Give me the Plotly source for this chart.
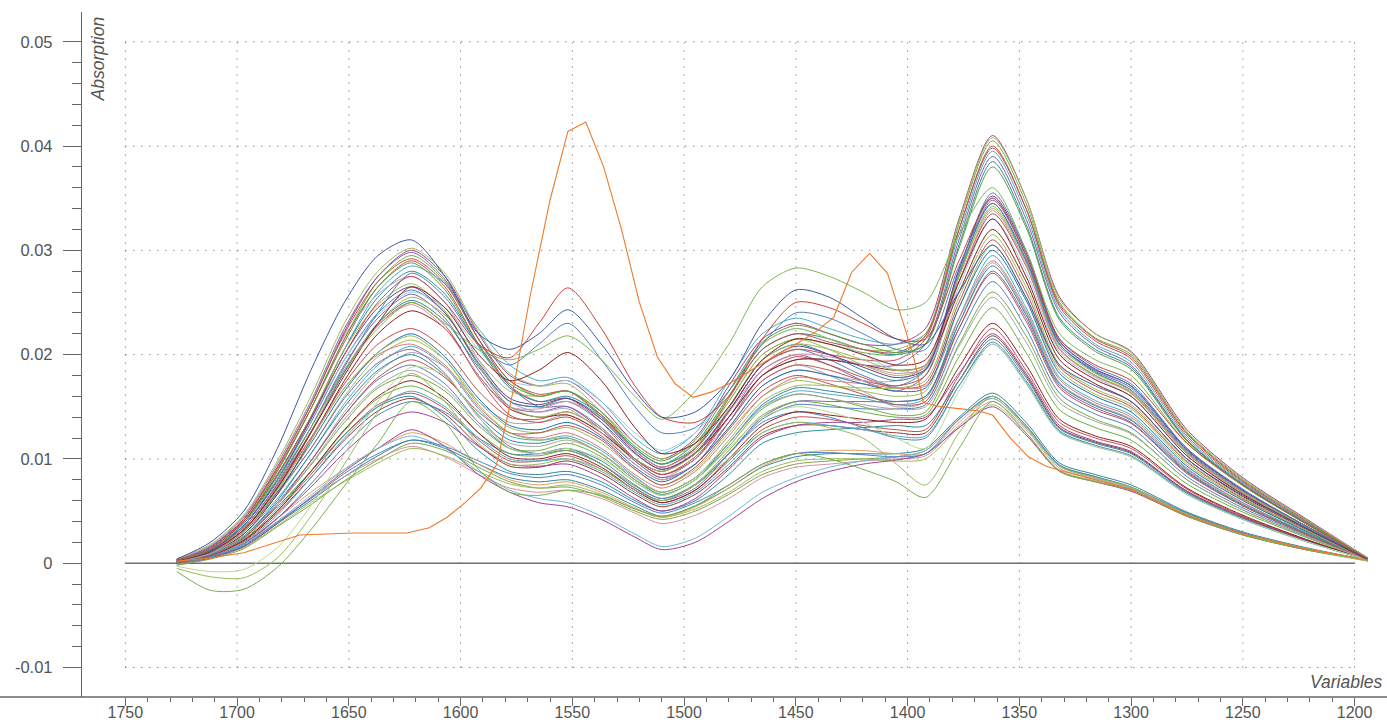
import plotly.graph_objects as go

# Wavenumbers (cm-1) at which each spectrum was read
wavenumber = [1727, 1712, 1697, 1682, 1667, 1652, 1637, 1622, 1607, 1592, 1578, 1565, 1552, 1537, 1522, 1510, 1495,
              1480, 1465, 1450, 1435, 1420, 1405, 1392, 1377, 1362, 1347, 1332, 1316, 1300, 1275, 1250, 1222, 1194]

t1 = [0.0003, 0.0015, 0.0042, 0.0092, 0.0152, 0.0222, 0.0275, 0.0300, 0.0275, 0.0220, 0.0180, 0.0170, 0.0175, 0.0150, 0.0115, 0.0100, 0.0120, 0.0170, 0.0215, 0.0230, 0.0220, 0.0210, 0.0210, 0.0225, 0.0330, 0.0410, 0.0350, 0.0255, 0.0220, 0.0203, 0.0128, 0.0082, 0.0043, 0.0005]
t2 = [0.0002, 0.0014, 0.0040, 0.0088, 0.0148, 0.0215, 0.0270, 0.0295, 0.0270, 0.0215, 0.0175, 0.0160, 0.0165, 0.0140, 0.0108, 0.0092, 0.0110, 0.0155, 0.0200, 0.0215, 0.0210, 0.0202, 0.0200, 0.0218, 0.0325, 0.0405, 0.0345, 0.0250, 0.0216, 0.0200, 0.0125, 0.0080, 0.0042, 0.0004]
t3 = [0.0004, 0.0016, 0.0042, 0.0090, 0.0148, 0.0212, 0.0265, 0.0290, 0.0265, 0.0210, 0.0170, 0.0155, 0.0158, 0.0135, 0.0100, 0.0085, 0.0100, 0.0145, 0.0190, 0.0205, 0.0200, 0.0195, 0.0195, 0.0215, 0.0320, 0.0400, 0.0340, 0.0246, 0.0213, 0.0196, 0.0122, 0.0078, 0.0040, 0.0004]
t4 = [0.0001, 0.0011, 0.0036, 0.0082, 0.0140, 0.0205, 0.0260, 0.0285, 0.0268, 0.0225, 0.0190, 0.0175, 0.0178, 0.0155, 0.0120, 0.0105, 0.0125, 0.0175, 0.0220, 0.0235, 0.0225, 0.0215, 0.0210, 0.0220, 0.0315, 0.0395, 0.0335, 0.0243, 0.0210, 0.0193, 0.0120, 0.0077, 0.0040, 0.0004]
t5 = [0.0003, 0.0016, 0.0044, 0.0095, 0.0155, 0.0225, 0.0275, 0.0298, 0.0272, 0.0215, 0.0170, 0.0150, 0.0150, 0.0128, 0.0098, 0.0082, 0.0095, 0.0135, 0.0180, 0.0195, 0.0195, 0.0190, 0.0190, 0.0210, 0.0310, 0.0390, 0.0330, 0.0240, 0.0208, 0.0190, 0.0118, 0.0075, 0.0039, 0.0004]
t6 = [0.0002, 0.0012, 0.0038, 0.0084, 0.0140, 0.0205, 0.0255, 0.0280, 0.0258, 0.0208, 0.0168, 0.0155, 0.0160, 0.0142, 0.0110, 0.0095, 0.0115, 0.0160, 0.0205, 0.0220, 0.0215, 0.0205, 0.0200, 0.0210, 0.0305, 0.0385, 0.0325, 0.0235, 0.0205, 0.0188, 0.0118, 0.0076, 0.0039, 0.0004]
t7 = [0.0004, 0.0018, 0.0046, 0.0098, 0.0160, 0.0230, 0.0280, 0.0302, 0.0278, 0.0222, 0.0182, 0.0170, 0.0172, 0.0145, 0.0110, 0.0095, 0.0112, 0.0160, 0.0210, 0.0225, 0.0215, 0.0205, 0.0205, 0.0220, 0.0328, 0.0408, 0.0350, 0.0253, 0.0220, 0.0202, 0.0126, 0.0081, 0.0042, 0.0005]
t8 = [0.0003, 0.0013, 0.0042, 0.0092, 0.0152, 0.0220, 0.0270, 0.0292, 0.0268, 0.0215, 0.0175, 0.0162, 0.0165, 0.0142, 0.0108, 0.0092, 0.0110, 0.0158, 0.0205, 0.0220, 0.0212, 0.0205, 0.0202, 0.0218, 0.0320, 0.0398, 0.0340, 0.0248, 0.0215, 0.0198, 0.0124, 0.0079, 0.0041, 0.0004]
t9 = [0.0002, 0.0012, 0.0040, 0.0088, 0.0148, 0.0215, 0.0265, 0.0288, 0.0262, 0.0210, 0.0172, 0.0160, 0.0165, 0.0145, 0.0112, 0.0098, 0.0118, 0.0165, 0.0212, 0.0228, 0.0220, 0.0210, 0.0202, 0.0210, 0.0302, 0.0380, 0.0322, 0.0233, 0.0203, 0.0186, 0.0117, 0.0075, 0.0039, 0.0004]

u1 = [0.0003, 0.0013, 0.0036, 0.0080, 0.0135, 0.0195, 0.0240, 0.0262, 0.0240, 0.0190, 0.0155, 0.0150, 0.0155, 0.0135, 0.0105, 0.0090, 0.0105, 0.0145, 0.0190, 0.0205, 0.0195, 0.0180, 0.0170, 0.0185, 0.0280, 0.0355, 0.0300, 0.0215, 0.0188, 0.0172, 0.0110, 0.0070, 0.0036, 0.0004]
u2 = [0.0002, 0.0012, 0.0034, 0.0076, 0.0130, 0.0190, 0.0235, 0.0258, 0.0235, 0.0185, 0.0150, 0.0145, 0.0150, 0.0130, 0.0100, 0.0085, 0.0100, 0.0140, 0.0185, 0.0200, 0.0190, 0.0175, 0.0165, 0.0180, 0.0275, 0.0348, 0.0295, 0.0210, 0.0184, 0.0168, 0.0108, 0.0069, 0.0035, 0.0003]
u3 = [0.0001, 0.0011, 0.0032, 0.0073, 0.0126, 0.0185, 0.0230, 0.0255, 0.0238, 0.0195, 0.0165, 0.0160, 0.0165, 0.0145, 0.0115, 0.0100, 0.0115, 0.0155, 0.0200, 0.0215, 0.0205, 0.0190, 0.0180, 0.0188, 0.0275, 0.0342, 0.0290, 0.0208, 0.0182, 0.0165, 0.0106, 0.0068, 0.0035, 0.0003]
u4 = [0.0003, 0.0012, 0.0034, 0.0075, 0.0126, 0.0183, 0.0228, 0.0250, 0.0228, 0.0178, 0.0142, 0.0135, 0.0140, 0.0122, 0.0095, 0.0080, 0.0095, 0.0135, 0.0175, 0.0190, 0.0185, 0.0175, 0.0170, 0.0180, 0.0270, 0.0335, 0.0285, 0.0205, 0.0180, 0.0163, 0.0105, 0.0067, 0.0034, 0.0003]
u5 = [0.0002, 0.0013, 0.0038, 0.0083, 0.0138, 0.0195, 0.0238, 0.0260, 0.0245, 0.0205, 0.0175, 0.0170, 0.0175, 0.0155, 0.0125, 0.0108, 0.0125, 0.0165, 0.0210, 0.0225, 0.0215, 0.0200, 0.0185, 0.0185, 0.0265, 0.0330, 0.0280, 0.0202, 0.0178, 0.0160, 0.0103, 0.0066, 0.0034, 0.0003]
u6 = [0.0000, 0.0009, 0.0028, 0.0066, 0.0118, 0.0175, 0.0220, 0.0242, 0.0225, 0.0180, 0.0148, 0.0140, 0.0142, 0.0125, 0.0100, 0.0088, 0.0105, 0.0140, 0.0180, 0.0195, 0.0195, 0.0190, 0.0185, 0.0190, 0.0260, 0.0320, 0.0270, 0.0195, 0.0172, 0.0155, 0.0100, 0.0064, 0.0033, 0.0003]
u7 = [0.0004, 0.0017, 0.0045, 0.0095, 0.0155, 0.0218, 0.0258, 0.0275, 0.0250, 0.0195, 0.0155, 0.0145, 0.0148, 0.0125, 0.0095, 0.0080, 0.0095, 0.0130, 0.0170, 0.0185, 0.0180, 0.0175, 0.0175, 0.0190, 0.0280, 0.0350, 0.0295, 0.0212, 0.0186, 0.0170, 0.0109, 0.0070, 0.0036, 0.0004]
u8 = [0.0002, 0.0011, 0.0032, 0.0073, 0.0125, 0.0183, 0.0230, 0.0252, 0.0232, 0.0188, 0.0155, 0.0150, 0.0158, 0.0140, 0.0110, 0.0095, 0.0110, 0.0150, 0.0195, 0.0210, 0.0200, 0.0185, 0.0175, 0.0185, 0.0278, 0.0345, 0.0292, 0.0210, 0.0183, 0.0166, 0.0107, 0.0068, 0.0035, 0.0003]
u9 = [0.0003, 0.0014, 0.0040, 0.0085, 0.0140, 0.0205, 0.0248, 0.0268, 0.0242, 0.0190, 0.0150, 0.0140, 0.0145, 0.0128, 0.0100, 0.0088, 0.0105, 0.0148, 0.0195, 0.0210, 0.0205, 0.0195, 0.0185, 0.0190, 0.0275, 0.0340, 0.0288, 0.0206, 0.0180, 0.0164, 0.0106, 0.0068, 0.0035, 0.0003]
u10 = [0.0001, 0.0009, 0.0030, 0.0070, 0.0125, 0.0185, 0.0228, 0.0248, 0.0225, 0.0180, 0.0150, 0.0148, 0.0155, 0.0138, 0.0108, 0.0092, 0.0108, 0.0145, 0.0185, 0.0200, 0.0198, 0.0190, 0.0182, 0.0188, 0.0270, 0.0338, 0.0286, 0.0205, 0.0179, 0.0163, 0.0105, 0.0067, 0.0034, 0.0003]
u11 = [0.0002, 0.0012, 0.0036, 0.0080, 0.0138, 0.0200, 0.0245, 0.0265, 0.0240, 0.0192, 0.0158, 0.0152, 0.0158, 0.0138, 0.0106, 0.0090, 0.0106, 0.0146, 0.0190, 0.0208, 0.0200, 0.0188, 0.0178, 0.0186, 0.0282, 0.0352, 0.0298, 0.0213, 0.0186, 0.0170, 0.0109, 0.0070, 0.0036, 0.0004]

m1 = [0.0002, 0.0010, 0.0030, 0.0066, 0.0110, 0.0160, 0.0198, 0.0214, 0.0195, 0.0155, 0.0130, 0.0125, 0.0130, 0.0115, 0.0090, 0.0075, 0.0090, 0.0125, 0.0160, 0.0175, 0.0170, 0.0165, 0.0160, 0.0165, 0.0245, 0.0305, 0.0255, 0.0185, 0.0162, 0.0148, 0.0095, 0.0061, 0.0031, 0.0003]
m2 = [0.0001, 0.0009, 0.0028, 0.0062, 0.0105, 0.0153, 0.0190, 0.0208, 0.0188, 0.0148, 0.0122, 0.0118, 0.0122, 0.0108, 0.0083, 0.0068, 0.0082, 0.0115, 0.0150, 0.0165, 0.0162, 0.0158, 0.0152, 0.0158, 0.0235, 0.0295, 0.0245, 0.0178, 0.0156, 0.0142, 0.0091, 0.0058, 0.0030, 0.0003]
m3 = [0.0000, 0.0007, 0.0024, 0.0056, 0.0098, 0.0145, 0.0183, 0.0202, 0.0188, 0.0155, 0.0135, 0.0135, 0.0142, 0.0125, 0.0098, 0.0082, 0.0100, 0.0135, 0.0175, 0.0190, 0.0180, 0.0165, 0.0150, 0.0155, 0.0230, 0.0288, 0.0240, 0.0173, 0.0152, 0.0138, 0.0089, 0.0057, 0.0029, 0.0003]
m4 = [0.0003, 0.0011, 0.0032, 0.0068, 0.0110, 0.0158, 0.0192, 0.0205, 0.0182, 0.0140, 0.0112, 0.0105, 0.0108, 0.0095, 0.0072, 0.0060, 0.0072, 0.0105, 0.0140, 0.0155, 0.0155, 0.0155, 0.0155, 0.0160, 0.0225, 0.0280, 0.0235, 0.0170, 0.0149, 0.0135, 0.0087, 0.0055, 0.0028, 0.0003]
m5 = [0.0002, 0.0011, 0.0032, 0.0072, 0.0120, 0.0172, 0.0210, 0.0225, 0.0205, 0.0165, 0.0140, 0.0138, 0.0145, 0.0128, 0.0100, 0.0085, 0.0102, 0.0140, 0.0180, 0.0198, 0.0190, 0.0178, 0.0168, 0.0172, 0.0250, 0.0310, 0.0260, 0.0188, 0.0165, 0.0150, 0.0097, 0.0062, 0.0032, 0.0003]
m6 = [0.0001, 0.0008, 0.0026, 0.0058, 0.0098, 0.0142, 0.0176, 0.0190, 0.0172, 0.0135, 0.0110, 0.0105, 0.0110, 0.0098, 0.0075, 0.0062, 0.0075, 0.0105, 0.0138, 0.0152, 0.0150, 0.0148, 0.0148, 0.0152, 0.0218, 0.0270, 0.0225, 0.0163, 0.0143, 0.0130, 0.0083, 0.0053, 0.0027, 0.0003]
m7 = [0.0002, 0.0009, 0.0026, 0.0056, 0.0094, 0.0135, 0.0168, 0.0180, 0.0165, 0.0132, 0.0110, 0.0108, 0.0115, 0.0102, 0.0078, 0.0065, 0.0080, 0.0112, 0.0148, 0.0162, 0.0158, 0.0150, 0.0142, 0.0145, 0.0210, 0.0260, 0.0218, 0.0158, 0.0138, 0.0125, 0.0080, 0.0051, 0.0026, 0.0003]
m8 = [0.0003, 0.0012, 0.0034, 0.0074, 0.0120, 0.0168, 0.0200, 0.0210, 0.0190, 0.0150, 0.0125, 0.0120, 0.0125, 0.0110, 0.0085, 0.0072, 0.0088, 0.0122, 0.0160, 0.0178, 0.0175, 0.0172, 0.0168, 0.0170, 0.0235, 0.0290, 0.0242, 0.0176, 0.0154, 0.0140, 0.0090, 0.0058, 0.0029, 0.0003]
m9 = [0.0002, 0.0010, 0.0030, 0.0068, 0.0115, 0.0165, 0.0202, 0.0220, 0.0198, 0.0158, 0.0132, 0.0128, 0.0135, 0.0120, 0.0092, 0.0078, 0.0095, 0.0130, 0.0170, 0.0185, 0.0180, 0.0172, 0.0165, 0.0168, 0.0245, 0.0300, 0.0252, 0.0182, 0.0160, 0.0145, 0.0093, 0.0060, 0.0031, 0.0003]
m10 = [0.0001, 0.0008, 0.0026, 0.0060, 0.0105, 0.0150, 0.0185, 0.0200, 0.0180, 0.0142, 0.0118, 0.0115, 0.0120, 0.0105, 0.0080, 0.0066, 0.0080, 0.0115, 0.0152, 0.0168, 0.0165, 0.0160, 0.0155, 0.0160, 0.0230, 0.0285, 0.0238, 0.0172, 0.0151, 0.0137, 0.0088, 0.0056, 0.0029, 0.0003]
m11 = [0.0000, 0.0007, 0.0024, 0.0056, 0.0098, 0.0142, 0.0178, 0.0195, 0.0178, 0.0145, 0.0125, 0.0125, 0.0132, 0.0118, 0.0090, 0.0075, 0.0092, 0.0128, 0.0165, 0.0180, 0.0172, 0.0162, 0.0152, 0.0155, 0.0225, 0.0278, 0.0232, 0.0168, 0.0147, 0.0134, 0.0086, 0.0055, 0.0028, 0.0003]
m12 = [0.0003, 0.0011, 0.0031, 0.0070, 0.0118, 0.0168, 0.0202, 0.0218, 0.0195, 0.0152, 0.0125, 0.0118, 0.0120, 0.0105, 0.0080, 0.0068, 0.0082, 0.0118, 0.0155, 0.0170, 0.0170, 0.0168, 0.0168, 0.0175, 0.0255, 0.0315, 0.0265, 0.0190, 0.0167, 0.0152, 0.0098, 0.0063, 0.0032, 0.0003]

l1 = [0.0000, 0.0007, 0.0022, 0.0050, 0.0085, 0.0123, 0.0152, 0.0163, 0.0148, 0.0118, 0.0098, 0.0098, 0.0103, 0.0090, 0.0070, 0.0058, 0.0070, 0.0098, 0.0128, 0.0140, 0.0138, 0.0132, 0.0128, 0.0128, 0.0180, 0.0225, 0.0185, 0.0135, 0.0120, 0.0110, 0.0071, 0.0045, 0.0023, 0.0003]
l2 = [0.0001, 0.0007, 0.0021, 0.0048, 0.0082, 0.0118, 0.0146, 0.0158, 0.0143, 0.0113, 0.0093, 0.0092, 0.0098, 0.0086, 0.0066, 0.0054, 0.0066, 0.0092, 0.0122, 0.0132, 0.0132, 0.0128, 0.0125, 0.0125, 0.0175, 0.0218, 0.0180, 0.0130, 0.0116, 0.0106, 0.0069, 0.0044, 0.0022, 0.0003]
l3 = [-0.0001, 0.0005, 0.0018, 0.0043, 0.0076, 0.0112, 0.0142, 0.0155, 0.0145, 0.0120, 0.0105, 0.0105, 0.0110, 0.0095, 0.0072, 0.0060, 0.0075, 0.0105, 0.0135, 0.0145, 0.0140, 0.0130, 0.0120, 0.0120, 0.0170, 0.0212, 0.0175, 0.0127, 0.0113, 0.0103, 0.0067, 0.0042, 0.0021, 0.0003]
l4 = [0.0002, 0.0009, 0.0025, 0.0054, 0.0088, 0.0123, 0.0150, 0.0160, 0.0140, 0.0108, 0.0088, 0.0085, 0.0088, 0.0078, 0.0060, 0.0050, 0.0060, 0.0085, 0.0115, 0.0125, 0.0128, 0.0130, 0.0132, 0.0132, 0.0175, 0.0215, 0.0178, 0.0129, 0.0115, 0.0105, 0.0068, 0.0043, 0.0022, 0.0003]
l5 = [0.0001, 0.0008, 0.0023, 0.0052, 0.0088, 0.0127, 0.0158, 0.0170, 0.0155, 0.0125, 0.0105, 0.0103, 0.0108, 0.0095, 0.0074, 0.0062, 0.0076, 0.0108, 0.0142, 0.0155, 0.0152, 0.0145, 0.0140, 0.0142, 0.0198, 0.0245, 0.0202, 0.0147, 0.0130, 0.0118, 0.0076, 0.0049, 0.0025, 0.0003]
l6 = [0.0000, 0.0006, 0.0019, 0.0043, 0.0073, 0.0106, 0.0133, 0.0145, 0.0135, 0.0112, 0.0095, 0.0093, 0.0095, 0.0082, 0.0062, 0.0050, 0.0062, 0.0090, 0.0120, 0.0132, 0.0135, 0.0135, 0.0138, 0.0140, 0.0182, 0.0220, 0.0182, 0.0132, 0.0117, 0.0107, 0.0069, 0.0044, 0.0022, 0.0003]
l7 = [0.0001, 0.0007, 0.0022, 0.0050, 0.0088, 0.0128, 0.0160, 0.0175, 0.0158, 0.0125, 0.0102, 0.0100, 0.0105, 0.0092, 0.0070, 0.0058, 0.0070, 0.0100, 0.0132, 0.0145, 0.0142, 0.0138, 0.0135, 0.0138, 0.0188, 0.0230, 0.0190, 0.0138, 0.0122, 0.0112, 0.0072, 0.0046, 0.0023, 0.0003]
l8 = [0.0000, 0.0006, 0.0020, 0.0046, 0.0082, 0.0120, 0.0150, 0.0165, 0.0150, 0.0120, 0.0100, 0.0098, 0.0100, 0.0088, 0.0068, 0.0056, 0.0068, 0.0095, 0.0125, 0.0135, 0.0132, 0.0128, 0.0122, 0.0122, 0.0170, 0.0210, 0.0173, 0.0126, 0.0112, 0.0102, 0.0066, 0.0042, 0.0021, 0.0003]
l9 = [0.0002, 0.0009, 0.0026, 0.0056, 0.0095, 0.0138, 0.0170, 0.0185, 0.0168, 0.0135, 0.0115, 0.0112, 0.0118, 0.0105, 0.0082, 0.0068, 0.0082, 0.0115, 0.0150, 0.0162, 0.0158, 0.0152, 0.0148, 0.0150, 0.0208, 0.0255, 0.0212, 0.0154, 0.0136, 0.0124, 0.0080, 0.0051, 0.0026, 0.0003]

b1 = [0.0000, 0.0006, 0.0016, 0.0038, 0.0060, 0.0083, 0.0103, 0.0118, 0.0110, 0.0095, 0.0082, 0.0078, 0.0080, 0.0070, 0.0055, 0.0045, 0.0055, 0.0072, 0.0092, 0.0102, 0.0105, 0.0105, 0.0105, 0.0110, 0.0140, 0.0163, 0.0135, 0.0096, 0.0085, 0.0075, 0.0049, 0.0030, 0.0015, 0.0003]
b2 = [-0.0002, 0.0004, 0.0014, 0.0035, 0.0056, 0.0079, 0.0099, 0.0115, 0.0108, 0.0092, 0.0078, 0.0072, 0.0073, 0.0064, 0.0050, 0.0042, 0.0050, 0.0066, 0.0085, 0.0095, 0.0098, 0.0100, 0.0102, 0.0108, 0.0138, 0.0160, 0.0132, 0.0094, 0.0083, 0.0073, 0.0048, 0.0029, 0.0014, 0.0003]
b3 = [0.0001, 0.0007, 0.0018, 0.0040, 0.0062, 0.0083, 0.0100, 0.0112, 0.0102, 0.0085, 0.0072, 0.0068, 0.0070, 0.0062, 0.0048, 0.0038, 0.0046, 0.0062, 0.0082, 0.0092, 0.0095, 0.0098, 0.0100, 0.0103, 0.0132, 0.0155, 0.0128, 0.0091, 0.0081, 0.0071, 0.0046, 0.0028, 0.0014, 0.0003]
b4 = [-0.0001, 0.0005, 0.0015, 0.0036, 0.0058, 0.0078, 0.0096, 0.0110, 0.0103, 0.0088, 0.0076, 0.0072, 0.0075, 0.0066, 0.0052, 0.0044, 0.0052, 0.0068, 0.0088, 0.0098, 0.0100, 0.0100, 0.0098, 0.0100, 0.0130, 0.0152, 0.0125, 0.0089, 0.0079, 0.0070, 0.0045, 0.0028, 0.0013, 0.0003]
b5 = [0.0002, 0.0008, 0.0020, 0.0043, 0.0068, 0.0090, 0.0110, 0.0125, 0.0115, 0.0095, 0.0080, 0.0075, 0.0078, 0.0068, 0.0053, 0.0044, 0.0054, 0.0072, 0.0093, 0.0105, 0.0108, 0.0108, 0.0105, 0.0105, 0.0135, 0.0158, 0.0130, 0.0093, 0.0082, 0.0072, 0.0047, 0.0029, 0.0014, 0.0003]
b6 = [0.0000, 0.0005, 0.0016, 0.0038, 0.0063, 0.0088, 0.0110, 0.0128, 0.0112, 0.0085, 0.0068, 0.0058, 0.0054, 0.0042, 0.0025, 0.0013, 0.0020, 0.0040, 0.0062, 0.0078, 0.0088, 0.0095, 0.0099, 0.0105, 0.0130, 0.0150, 0.0123, 0.0088, 0.0078, 0.0069, 0.0045, 0.0027, 0.0013, 0.0003]
b7 = [0.0001, 0.0006, 0.0018, 0.0040, 0.0065, 0.0090, 0.0110, 0.0122, 0.0110, 0.0088, 0.0070, 0.0062, 0.0058, 0.0045, 0.0028, 0.0016, 0.0024, 0.0045, 0.0068, 0.0082, 0.0092, 0.0098, 0.0102, 0.0108, 0.0138, 0.0158, 0.0130, 0.0093, 0.0082, 0.0072, 0.0047, 0.0029, 0.0014, 0.0003]
b8 = [0.0001, 0.0006, 0.0017, 0.0039, 0.0062, 0.0086, 0.0105, 0.0118, 0.0112, 0.0098, 0.0086, 0.0082, 0.0085, 0.0075, 0.0058, 0.0048, 0.0058, 0.0075, 0.0095, 0.0105, 0.0106, 0.0104, 0.0102, 0.0105, 0.0138, 0.0160, 0.0132, 0.0094, 0.0083, 0.0073, 0.0048, 0.0029, 0.0014, 0.0003]

g1 = [-0.0008, -0.0026, -0.0025, -0.0004, 0.0032, 0.0074, 0.0115, 0.0155, 0.0135, 0.0090, 0.0068, 0.0065, 0.0070, 0.0065, 0.0052, 0.0045, 0.0055, 0.0075, 0.0095, 0.0105, 0.0100, 0.0090, 0.0078, 0.0063, 0.0110, 0.0155, 0.0125, 0.0088, 0.0078, 0.0070, 0.0045, 0.0027, 0.0013, 0.0002]
g2 = [-0.0005, -0.0013, -0.0014, 0.0005, 0.0045, 0.0095, 0.0145, 0.0182, 0.0155, 0.0115, 0.0095, 0.0095, 0.0100, 0.0090, 0.0070, 0.0060, 0.0075, 0.0100, 0.0125, 0.0135, 0.0130, 0.0120, 0.0095, 0.0075, 0.0125, 0.0160, 0.0130, 0.0093, 0.0082, 0.0073, 0.0047, 0.0028, 0.0014, 0.0002]
g3 = [-0.0003, -0.0008, -0.0006, 0.0015, 0.0055, 0.0105, 0.0155, 0.0188, 0.0180, 0.0140, 0.0110, 0.0105, 0.0110, 0.0100, 0.0078, 0.0065, 0.0080, 0.0110, 0.0140, 0.0150, 0.0145, 0.0135, 0.0120, 0.0110, 0.0165, 0.0210, 0.0172, 0.0125, 0.0112, 0.0102, 0.0066, 0.0042, 0.0021, 0.0003]

s1 = [0.0004, 0.0020, 0.0050, 0.0110, 0.0185, 0.0250, 0.0295, 0.0310, 0.0275, 0.0220, 0.0205, 0.0220, 0.0243, 0.0210, 0.0165, 0.0140, 0.0145, 0.0175, 0.0230, 0.0262, 0.0255, 0.0235, 0.0215, 0.0210, 0.0260, 0.0305, 0.0255, 0.0190, 0.0170, 0.0155, 0.0100, 0.0065, 0.0034, 0.0004]
s2 = [0.0003, 0.0014, 0.0040, 0.0085, 0.0140, 0.0200, 0.0250, 0.0275, 0.0250, 0.0210, 0.0197, 0.0230, 0.0264, 0.0225, 0.0170, 0.0140, 0.0135, 0.0160, 0.0215, 0.0250, 0.0245, 0.0230, 0.0215, 0.0215, 0.0290, 0.0350, 0.0295, 0.0215, 0.0190, 0.0175, 0.0115, 0.0075, 0.0038, 0.0004]
s3 = [0.0003, 0.0014, 0.0040, 0.0080, 0.0130, 0.0185, 0.0225, 0.0250, 0.0230, 0.0205, 0.0195, 0.0205, 0.0218, 0.0195, 0.0160, 0.0138, 0.0165, 0.0210, 0.0265, 0.0283, 0.0275, 0.0260, 0.0243, 0.0250, 0.0315, 0.0360, 0.0300, 0.0220, 0.0195, 0.0180, 0.0115, 0.0074, 0.0038, 0.0004]
s4 = [0.0002, 0.0011, 0.0032, 0.0072, 0.0125, 0.0180, 0.0230, 0.0265, 0.0245, 0.0200, 0.0175, 0.0185, 0.0202, 0.0175, 0.0130, 0.0105, 0.0115, 0.0150, 0.0195, 0.0215, 0.0210, 0.0200, 0.0190, 0.0195, 0.0270, 0.0330, 0.0275, 0.0200, 0.0176, 0.0160, 0.0103, 0.0066, 0.0034, 0.0003]
s5 = [0.0003, 0.0013, 0.0036, 0.0078, 0.0130, 0.0188, 0.0240, 0.0278, 0.0255, 0.0210, 0.0190, 0.0210, 0.0230, 0.0195, 0.0150, 0.0125, 0.0130, 0.0165, 0.0210, 0.0240, 0.0235, 0.0220, 0.0205, 0.0205, 0.0285, 0.0345, 0.0290, 0.0210, 0.0185, 0.0170, 0.0110, 0.0071, 0.0036, 0.0004]

# Outlier sample (orange), read at its own wavenumbers
outlier_wavenumber = [1727, 1712, 1697, 1685, 1672, 1660, 1648, 1636, 1624, 1614, 1606, 1598, 1591, 1584, 1577, 1569,
                      1560, 1552, 1544, 1536, 1528, 1520, 1512, 1504, 1496, 1488, 1480, 1470, 1460, 1450, 1441, 1433,
                      1425, 1417, 1409, 1401, 1397, 1393, 1385, 1376, 1368, 1362, 1354, 1346, 1338, 1330, 1316, 1300,
                      1275, 1250, 1222, 1194]
outlier_absorption = [0.0002, 0.0005, 0.0010, 0.0018, 0.0027, 0.0028, 0.0029, 0.0029, 0.0029, 0.0034, 0.0044, 0.0058,
                      0.0072, 0.0094, 0.0160, 0.0255, 0.0348, 0.0414, 0.0423, 0.0380, 0.0320, 0.0250, 0.0198, 0.0172,
                      0.0159, 0.0164, 0.0172, 0.0185, 0.0198, 0.0210, 0.0222, 0.0236, 0.0279, 0.0297, 0.0278, 0.0224,
                      0.0195, 0.0154, 0.0150, 0.0148, 0.0146, 0.0142, 0.0120, 0.0102, 0.0093, 0.0088, 0.0080, 0.0071,
                      0.0046, 0.0028, 0.0014, 0.0003]

x_tick_values = [1750, 1700, 1650, 1600, 1550, 1500, 1450, 1400, 1350, 1300, 1250, 1200]
y_tick_values = [-0.01, 0, 0.01, 0.02, 0.03, 0.04, 0.05]
y_tick_labels = ['-0.01', '0', '0.01', '0.02', '0.03', '0.04', '0.05']

spectra = [
    (t1, '#A3418F'), (u1, '#4F81BD'), (m1, '#9BBB59'), (l1, '#C0504D'), (b1, '#31859C'),
    (t2, '#6AAE3E'), (u2, '#8064A2'), (m2, '#4BACC6'), (l2, '#943634'), (b2, '#76A844'),
    (t3, '#C0504D'), (u3, '#9BBB59'), (m3, '#A5A5A5'), (l3, '#4F81BD'), (b3, '#D98FA0'),
    (t4, '#4BACC6'), (u4, '#C0504D'), (m4, '#8064A2'), (l4, '#2C8C99'), (b4, '#9BBB59'),
    (t5, '#8064A2'), (u5, '#93CDDD'), (m5, '#C0504D'), (l5, '#6AAE3E'), (b5, '#E0A060'),
    (t6, '#2C8C99'), (u6, '#8B1E1E'), (m6, '#4F81BD'), (l6, '#A3418F'), (b6, '#A3418F'),
    (t7, '#9BBB59'), (u7, '#B3A2C7'), (m7, '#76A844'), (b7, '#6FB7DD'),
    (u8, '#31859C'), (m8, '#D07A7A'), (t8, '#C0504D'), (u9, '#9BBB59'), (m9, '#1F6FB0'),
    (l7, '#8B1E1E'), (t9, '#5E9E3A'), (u10, '#D98FA0'), (m10, '#31859C'), (l8, '#4BACC6'),
    (u11, '#6A3D8F'), (m11, '#C0504D'), (l9, '#A5A5A5'), (m12, '#9BBB59'), (b8, '#4F81BD'),
    (g1, '#76B04A'), (g2, '#9BBB59'), (g3, '#B7D88F'),
    (s4, '#8B1E1E'), (s5, '#4F81BD'), (s3, '#7DB84F'), (s2, '#C8403A'), (s1, '#3B5AA0'),
]

fig = go.Figure()

for values, colour in spectra:
    fig.add_trace(go.Scatter(x=wavenumber, y=values, mode='lines',
                             line=dict(color=colour, width=1, shape='spline', smoothing=0.8),
                             hoverinfo='skip', showlegend=False))

fig.add_trace(go.Scatter(x=outlier_wavenumber, y=outlier_absorption, mode='lines',
                         line=dict(color='#EE7A2A', width=1.1),
                         hoverinfo='skip', showlegend=False))

shapes = []
grid_style = dict(color='#555555', width=1, dash='1px,7px')
for xv in x_tick_values:
    shapes.append(dict(type='line', xref='x', yref='y', x0=xv, x1=xv, y0=-0.01, y1=0.05,
                       line=grid_style, layer='below'))
for yv in y_tick_values:
    if yv == 0:
        continue
    shapes.append(dict(type='line', xref='x', yref='y', x0=1750, x1=1200, y0=yv, y1=yv,
                       line=grid_style, layer='below'))
# zero line
shapes.append(dict(type='line', xref='x', yref='y', x0=1750, x1=1200, y0=0, y1=0,
                   line=dict(color='#707070', width=1.6), layer='below'))
# bottom axis line extending across the full width
shapes.append(dict(type='line', xref='paper', yref='paper', x0=-82 / 1305, x1=1.0, y0=0, y1=0,
                   line=dict(color='#666666', width=1.4)))

fig.update_layout(
    width=1387, height=722,
    margin=dict(l=82, r=0, t=12, b=25, autoexpand=False),
    paper_bgcolor='white', plot_bgcolor='white',
    font=dict(family='Liberation Sans, Arial, sans-serif', color='#555555', size=16),
    shapes=shapes,
    xaxis=dict(
        range=[1769.4, 1185.5], showgrid=False, zeroline=False, showline=False, automargin=False,
        tickmode='array', tickvals=x_tick_values,
        ticks='outside', ticklen=8, tickwidth=1, tickcolor='#666666',
        ticklabelstandoff=-7,
        tickfont=dict(size=16, color='#555555'),
        minor=dict(tickmode='array', tickvals=list(range(1200, 1751, 10)),
                   ticks='outside', ticklen=4, tickcolor='#666666', showgrid=False),
    ),
    yaxis=dict(
        range=[-0.01283, 0.05285], showgrid=False, zeroline=False, automargin=False,
        showline=True, linecolor='#666666', linewidth=1.4,
        tickmode='array', tickvals=y_tick_values, ticktext=y_tick_labels,
        ticks='outside', ticklen=18, tickwidth=1.4, tickcolor='#666666',
        ticklabelstandoff=7,
        tickfont=dict(size=16.5, color='#555555'),
        minor=dict(tickmode='array', tickvals=[round(-0.01 + 0.002 * i, 3) for i in range(31)],
                   ticks='outside', ticklen=9, tickcolor='#666666', showgrid=False),
    ),
    annotations=[
        dict(text='<i>Absorption</i>', xref='paper', yref='paper', x=(97.5 - 82) / 1305, y=(697 - 59) / 685,
             textangle=-90, showarrow=False, xanchor='center', yanchor='middle',
             font=dict(size=17.5, color='#555555')),
        dict(text='<i>Variables</i>', xref='paper', yref='paper', x=(1385 - 82) / 1305, y=(697 - 682) / 685,
             showarrow=False, xanchor='right', yanchor='middle',
             font=dict(size=17.5, color='#555555')),
    ],
)

fig.write_html('out.html', config={'displayModeBar': False},
               post_script="document.body.style.margin='0px';document.body.style.overflow='hidden';")
